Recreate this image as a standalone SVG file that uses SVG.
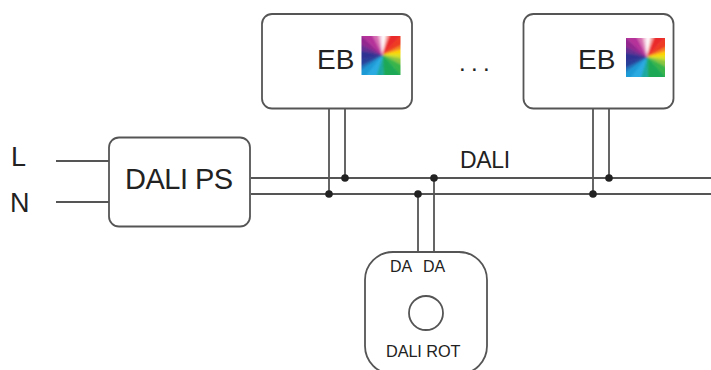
<svg xmlns="http://www.w3.org/2000/svg" width="711" height="370" viewBox="0 0 711 370">
<style>
.box{fill:#fff;stroke:#555;stroke-width:1.8}
.w{fill:none;stroke:#555;stroke-width:1.8}
.d{fill:#222}
text{font-family:"Liberation Sans",Arial,sans-serif;fill:#222}
</style>
<defs>
<filter id="soft" x="-10%" y="-10%" width="120%" height="120%"><feGaussianBlur stdDeviation="0.8"/></filter>
<clipPath id="sq"><rect width="39" height="39"/></clipPath>
<g id="wheel"><g clip-path="url(#sq)"><g filter="url(#soft)" stroke-width="0.5">
<polygon fill="#f7dce8" stroke="#f7dce8" points="21,19 18,-3 21,-3"/>
<polygon fill="#fff" stroke="#fff" points="21,19 21,-3 25,-3"/>
<polygon fill="#f7a9a9" stroke="#f7a9a9" points="21,19 25,-3 29,-3"/>
<polygon fill="#ea2a2a" stroke="#ea2a2a" points="21,19 29,-3 42,-3"/>
<polygon fill="#ee3a24" stroke="#ee3a24" points="21,19 42,-3 42,8"/>
<polygon fill="#f58220" stroke="#f58220" points="21,19 42,8 42,13"/>
<polygon fill="#ffd400" stroke="#ffd400" points="21,19 42,13 42,18"/>
<polygon fill="#d9e021" stroke="#d9e021" points="21,19 42,18 42,23"/>
<polygon fill="#8cc63f" stroke="#8cc63f" points="21,19 42,23 42,30"/>
<polygon fill="#39b54a" stroke="#39b54a" points="21,19 42,30 42,42"/>
<polygon fill="#1fa855" stroke="#1fa855" points="21,19 42,42 22,42"/>
<polygon fill="#1aa8a0" stroke="#1aa8a0" points="21,19 22,42 14,42"/>
<polygon fill="#29abe2" stroke="#29abe2" points="21,19 14,42 3,42"/>
<polygon fill="#1e9ad6" stroke="#1e9ad6" points="21,19 3,42 -3,42 -3,36"/>
<polygon fill="#1b75bc" stroke="#1b75bc" points="21,19 -3,36 -3,31"/>
<polygon fill="#27409a" stroke="#27409a" points="21,19 -3,31 -3,24"/>
<polygon fill="#2e3192" stroke="#2e3192" points="21,19 -3,24 -3,14"/>
<polygon fill="#662d91" stroke="#662d91" points="21,19 -3,14 -3,7"/>
<polygon fill="#92278f" stroke="#92278f" points="21,19 -3,7 -3,-3"/>
<polygon fill="#b5339a" stroke="#b5339a" points="21,19 -3,-3 10,-3"/>
<polygon fill="#d66bb0" stroke="#d66bb0" points="21,19 10,-3 16,-3"/>
<polygon fill="#eeb0d0" stroke="#eeb0d0" points="21,19 16,-3 18,-3"/>
</g></g></g>
</defs>
<g id="connectors">
<path class="w" d="M56 161H109M56 202H109M251 178H711M251 194H711M329 108V194M345 108V178M593 108V194M609 108V178M418 194V252M434 178V252"/>
<circle class="d" cx="329" cy="194" r="3.8"/>
<circle class="d" cx="345" cy="178" r="3.8"/>
<circle class="d" cx="593" cy="194" r="3.8"/>
<circle class="d" cx="609" cy="178" r="3.8"/>
<circle class="d" cx="418" cy="194" r="3.8"/>
<circle class="d" cx="434" cy="178" r="3.8"/>
</g>
<g id="label-L"><text x="11" y="166" font-size="27">L</text></g>
<g id="label-N"><text x="10" y="212" font-size="27">N</text></g>
<g id="dali-ps"><rect class="box" x="109" y="137.500" width="141" height="89" rx="10"/><text x="125" y="189" font-size="29" letter-spacing="-0.500">DALI PS</text></g>
<g id="eb-1"><rect class="box" x="262" y="14" width="150" height="94.500" rx="10"/><text x="317" y="69" font-size="28">EB</text><use href="#wheel" x="361.500" y="36"/></g>
<g id="eb-2"><rect class="box" x="523.500" y="14" width="150" height="94.500" rx="10"/><text x="578" y="69" font-size="28">EB</text><use href="#wheel" x="626" y="38"/></g>
<g id="ellipsis"><text x="459" y="71" font-size="24" letter-spacing="5.300">...</text></g>
<g id="bus-label"><text x="460" y="168" font-size="23" letter-spacing="-0.300">DALI</text></g>
<g id="dali-rot"><rect class="box" x="365" y="252" width="122" height="122" rx="28"/><circle class="box" cx="426" cy="313" r="17"/><text x="390" y="272" font-size="16">DA</text><text x="423" y="272" font-size="16">DA</text><text x="386" y="357" font-size="16.300" letter-spacing="-0.100">DALI ROT</text></g>
</svg>
